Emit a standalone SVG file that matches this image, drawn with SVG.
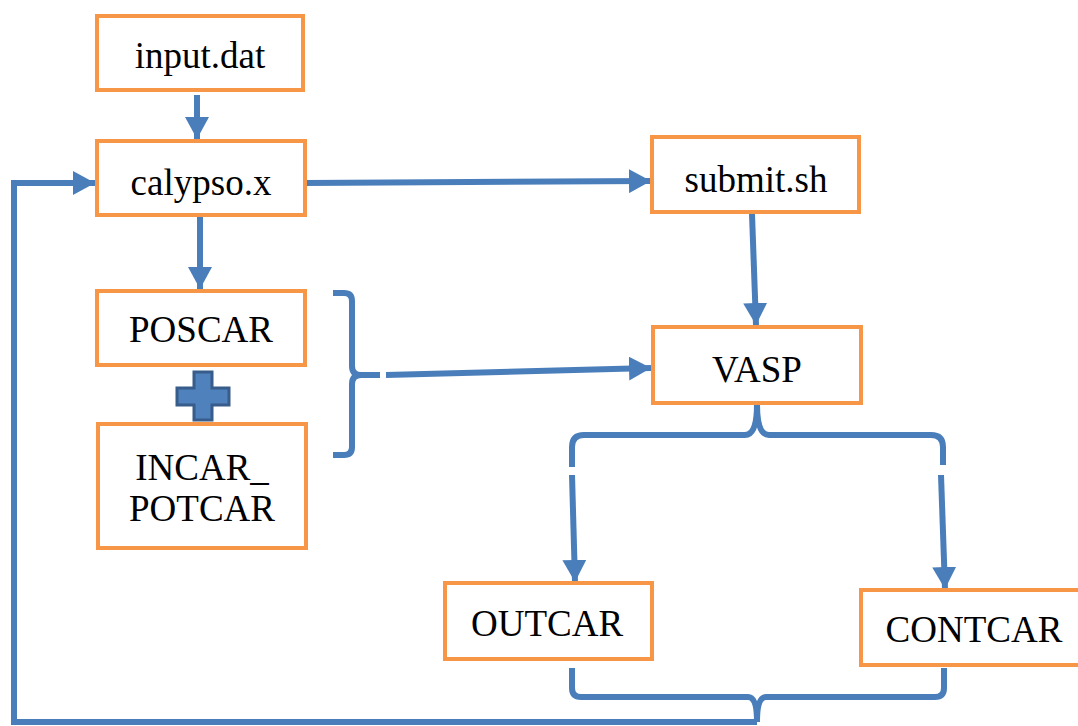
<svg xmlns="http://www.w3.org/2000/svg" width="1078" height="726" viewBox="0 0 1078 726">
<style>
.box{fill:#fff;stroke:#F79646;stroke-width:4}
.c{fill:none;stroke:#4A7EBB;stroke-width:6}
</style>
<defs>
<marker id="ah" markerUnits="userSpaceOnUse" markerWidth="22" markerHeight="24" viewBox="0 0 22 24" refX="22" refY="12" orient="auto">
<path d="M0,0 L22,12 L0,24 z" fill="#4A7EBB"/>
</marker>
</defs>
<rect width="1078" height="726" fill="#fff"/>
<g id="connectors">
<path class="c" d="M197,95 V139" marker-end="url(#ah)"/>
<path class="c" d="M306,183 L651,181" marker-end="url(#ah)"/>
<path class="c" d="M200,216 V289" marker-end="url(#ah)"/>
<path class="c" d="M752,214 L756,325" marker-end="url(#ah)"/>
<path class="c" d="M333,293 H344 Q352,293 352,301 V366 Q352,375 361,375 H380 M361,375 Q352,375 352,384 V447 Q352,455 344,455 H333"/>
<path class="c" d="M386,375 L651,368" marker-end="url(#ah)"/>
<path class="c" d="M572,467 V447 Q572,435 584,435 H745 Q757,435 757,404 Q757,435 769,435 H931 Q943,435 943,447 V465"/>
<path class="c" d="M572,475 L575,582" marker-end="url(#ah)"/>
<path class="c" d="M941,475 L945,589" marker-end="url(#ah)"/>
<path class="c" d="M572,668 V688 Q572,697 581,697 H748 Q757,697 757,722 Q757,697 766,697 H935 Q944,697 944,688 V668"/>
<path class="c" d="M757,722 H14 V183 H95" marker-end="url(#ah)"/>
</g>
<g id="plus">
<path d="M194,372 H212 V388 H229 V405 H212 V420 H194 V405 H177 V388 H194 Z" fill="#4F81BD" stroke="#385D8A" stroke-width="3"/>
</g>
<g font-family="Liberation Serif, DejaVu Serif, Times New Roman, serif" font-size="37" fill="#000" text-anchor="middle">
<g id="input"><rect class="box" x="97" y="16" width="206" height="74"/><text x="200" y="68">input.dat</text></g>
<g id="calypso"><rect class="box" x="97" y="141" width="208" height="74"/><text x="201" y="195">calypso.x</text></g>
<g id="submit"><rect class="box" x="652" y="137" width="207" height="75"/><text x="756" y="192">submit.sh</text></g>
<g id="poscar"><rect class="box" x="97" y="291" width="208" height="74"/><text x="201" y="342">POSCAR</text></g>
<g id="incar"><rect class="box" x="98" y="424" width="208" height="124"/><text x="202" y="480">INCAR_</text><text x="202" y="521">POTCAR</text></g>
<g id="vasp"><rect class="box" x="653" y="327" width="208" height="76"/><text x="757" y="382">VASP</text></g>
<g id="outcar"><rect class="box" x="445" y="583" width="207" height="76"/><text x="547" y="636">OUTCAR</text></g>
<g id="contcar"><rect class="box" x="861" y="590" width="220" height="75"/><text x="974" y="642">CONTCAR</text></g>
</g>
</svg>
